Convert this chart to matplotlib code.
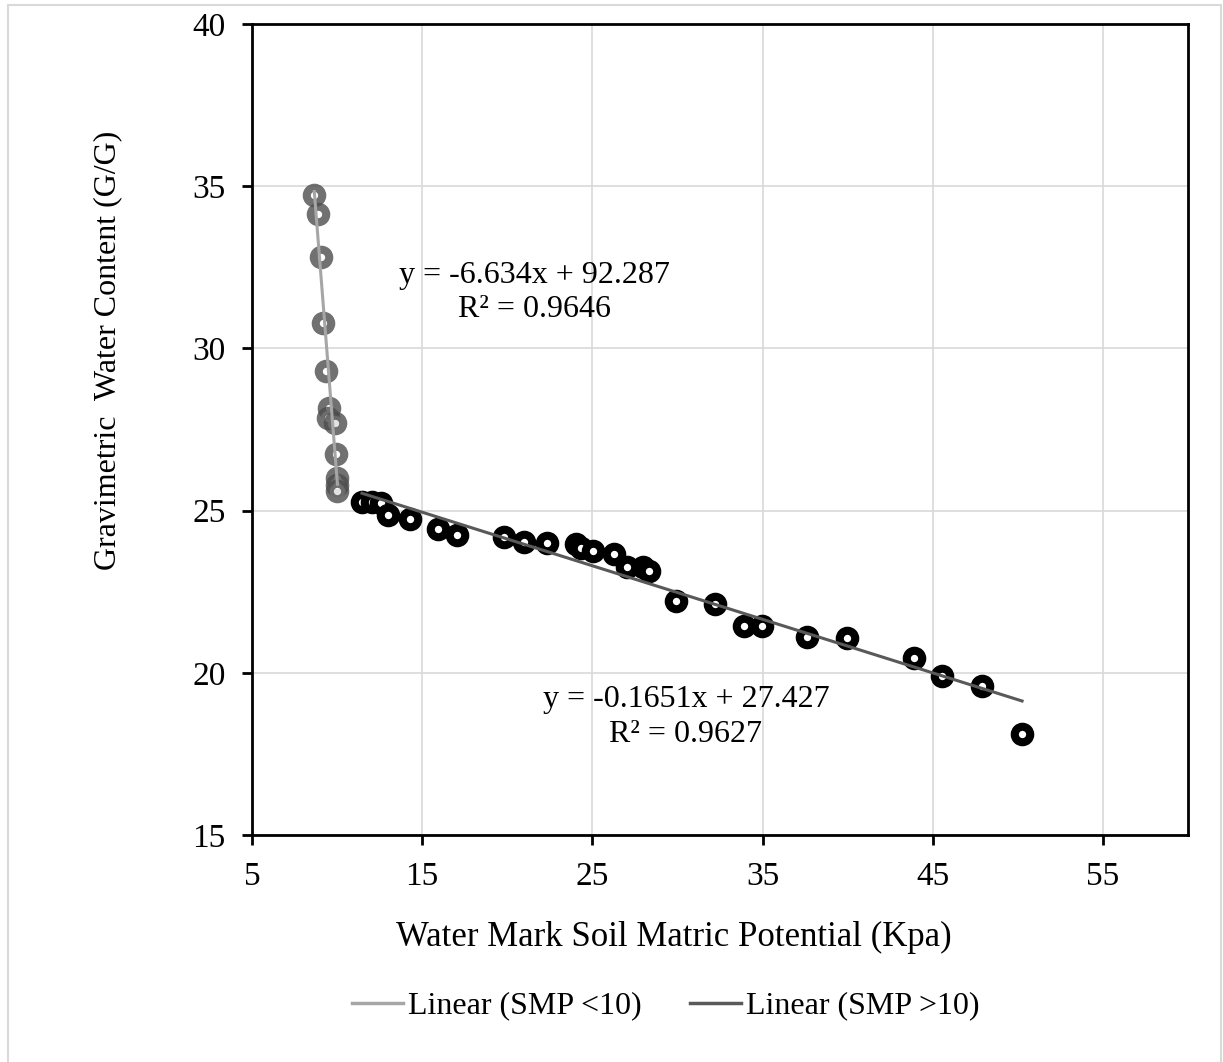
import matplotlib
matplotlib.use("Agg")
import matplotlib.pyplot as plot
import numpy as np
from matplotlib.lines import Line2D
from matplotlib.patches import Rectangle

# soil matric potential below 10 kPa
smp_low = [8.66, 8.85, 9.03, 9.18, 9.32, 9.54, 9.46, 9.87, 9.93, 10.0, 10.0, 10.02]
gwc_low = [34.73, 34.13, 32.81, 30.79, 29.30, 28.15, 27.85, 27.69, 26.75, 26.0, 25.8, 25.61]

# soil matric potential above 10 kPa
smp_high = [11.46, 12.04, 12.57, 12.98, 14.27, 15.92, 17.03, 19.79, 20.96, 22.31,
            24.01, 24.31, 25.01, 26.30, 27.01, 27.95, 28.30, 29.94, 32.23, 33.93,
            34.99, 37.63, 39.98, 43.91, 45.55, 47.90, 50.25]
gwc_high = [25.27, 25.27, 25.23, 24.86, 24.74, 24.43, 24.25, 24.19, 24.03, 24.00,
            23.97, 23.85, 23.76, 23.66, 23.26, 23.26, 23.14, 22.21, 22.12, 21.44,
            21.44, 21.10, 21.07, 20.46, 19.90, 19.59, 18.11]

fit_low = (-6.634, 92.287, 0.9646)
fit_high = (-0.1651, 27.427, 0.9627)

W, H = 1223, 1062
FONT = "Liberation Serif"
plot.rcParams["font.family"] = [FONT, "DejaVu Serif"]

figure = plot.figure(figsize=(W / 100, H / 100), dpi=100)
figure.patches.append(Rectangle((8 / W, -0.1), (1221 - 8) / W, 1.1 - 5 / H, transform=figure.transFigure,
                                fill=False, edgecolor="#d9d9d9", linewidth=1.5))

ax = figure.add_axes([252 / W, 1 - 835 / H, (1188 - 252) / W, (835 - 24) / H])
ax.set_xlim(5, 60)
ax.set_ylim(15, 40)
ax.set_xticks(np.arange(5, 60, 10))
ax.set_yticks(np.arange(15, 41, 5))
ax.grid(True, color="#d9d9d9", linewidth=1.2, zorder=0)
ax.set_axisbelow(True)
for spine in ax.spines.values():
    spine.set_linewidth(2)
    spine.set_color("black")
ax.tick_params(direction="out", length=7, width=2, pad=12, labelsize=24, colors="black")

ax.scatter(smp_low, gwc_low, s=125, facecolor="white", edgecolor="#4d4d4d", linewidths=5.8, alpha=0.8, zorder=3)
ax.scatter(smp_high, gwc_high, s=125, facecolor="white", edgecolor="black", linewidths=5.8, zorder=3)

for xs, fit, color in [(smp_low, fit_low, "#a6a6a6"), (smp_high, fit_high, "#595959")]:
    ends = np.array([min(xs), max(xs)])
    ax.plot(ends, fit[0] * ends + fit[1], color=color, linewidth=2.2, zorder=4)

ax.text(21.6, 31.72, f"y = {fit_low[0]}x + {fit_low[1]}\nR² = {fit_low[2]}", fontsize=23,
        ha="center", va="center", multialignment="center", linespacing=1.25, zorder=5)
ax.text(30.5, 18.64, f"y = {fit_high[0]}x + {fit_high[1]}\nR² = {fit_high[2]}", fontsize=23,
        ha="center", va="center", multialignment="center", linespacing=1.25, zorder=5)

figure.text(674 / W, 1 - 937 / H, "Water Mark Soil Matric Potential (Kpa)", fontsize=25,
            ha="center", va="center")
figure.text(108 / W, 1 - 350 / H, "Gravimetric  Water Content (G/G)", fontsize=23,
            ha="center", va="center", rotation=90)

handles = [Line2D([], [], color="#a6a6a6", linewidth=2.5), Line2D([], [], color="#595959", linewidth=2.5)]
figure.legend(handles, ["Linear (SMP <10)", "Linear (SMP >10)"], loc="center",
              bbox_to_anchor=(666 / W, 1 - 1006 / H), ncol=2, frameon=False, fontsize=23,
              handlelength=1.6, handletextpad=0.16, columnspacing=1.5)

figure.savefig("out.png", dpi=100)
